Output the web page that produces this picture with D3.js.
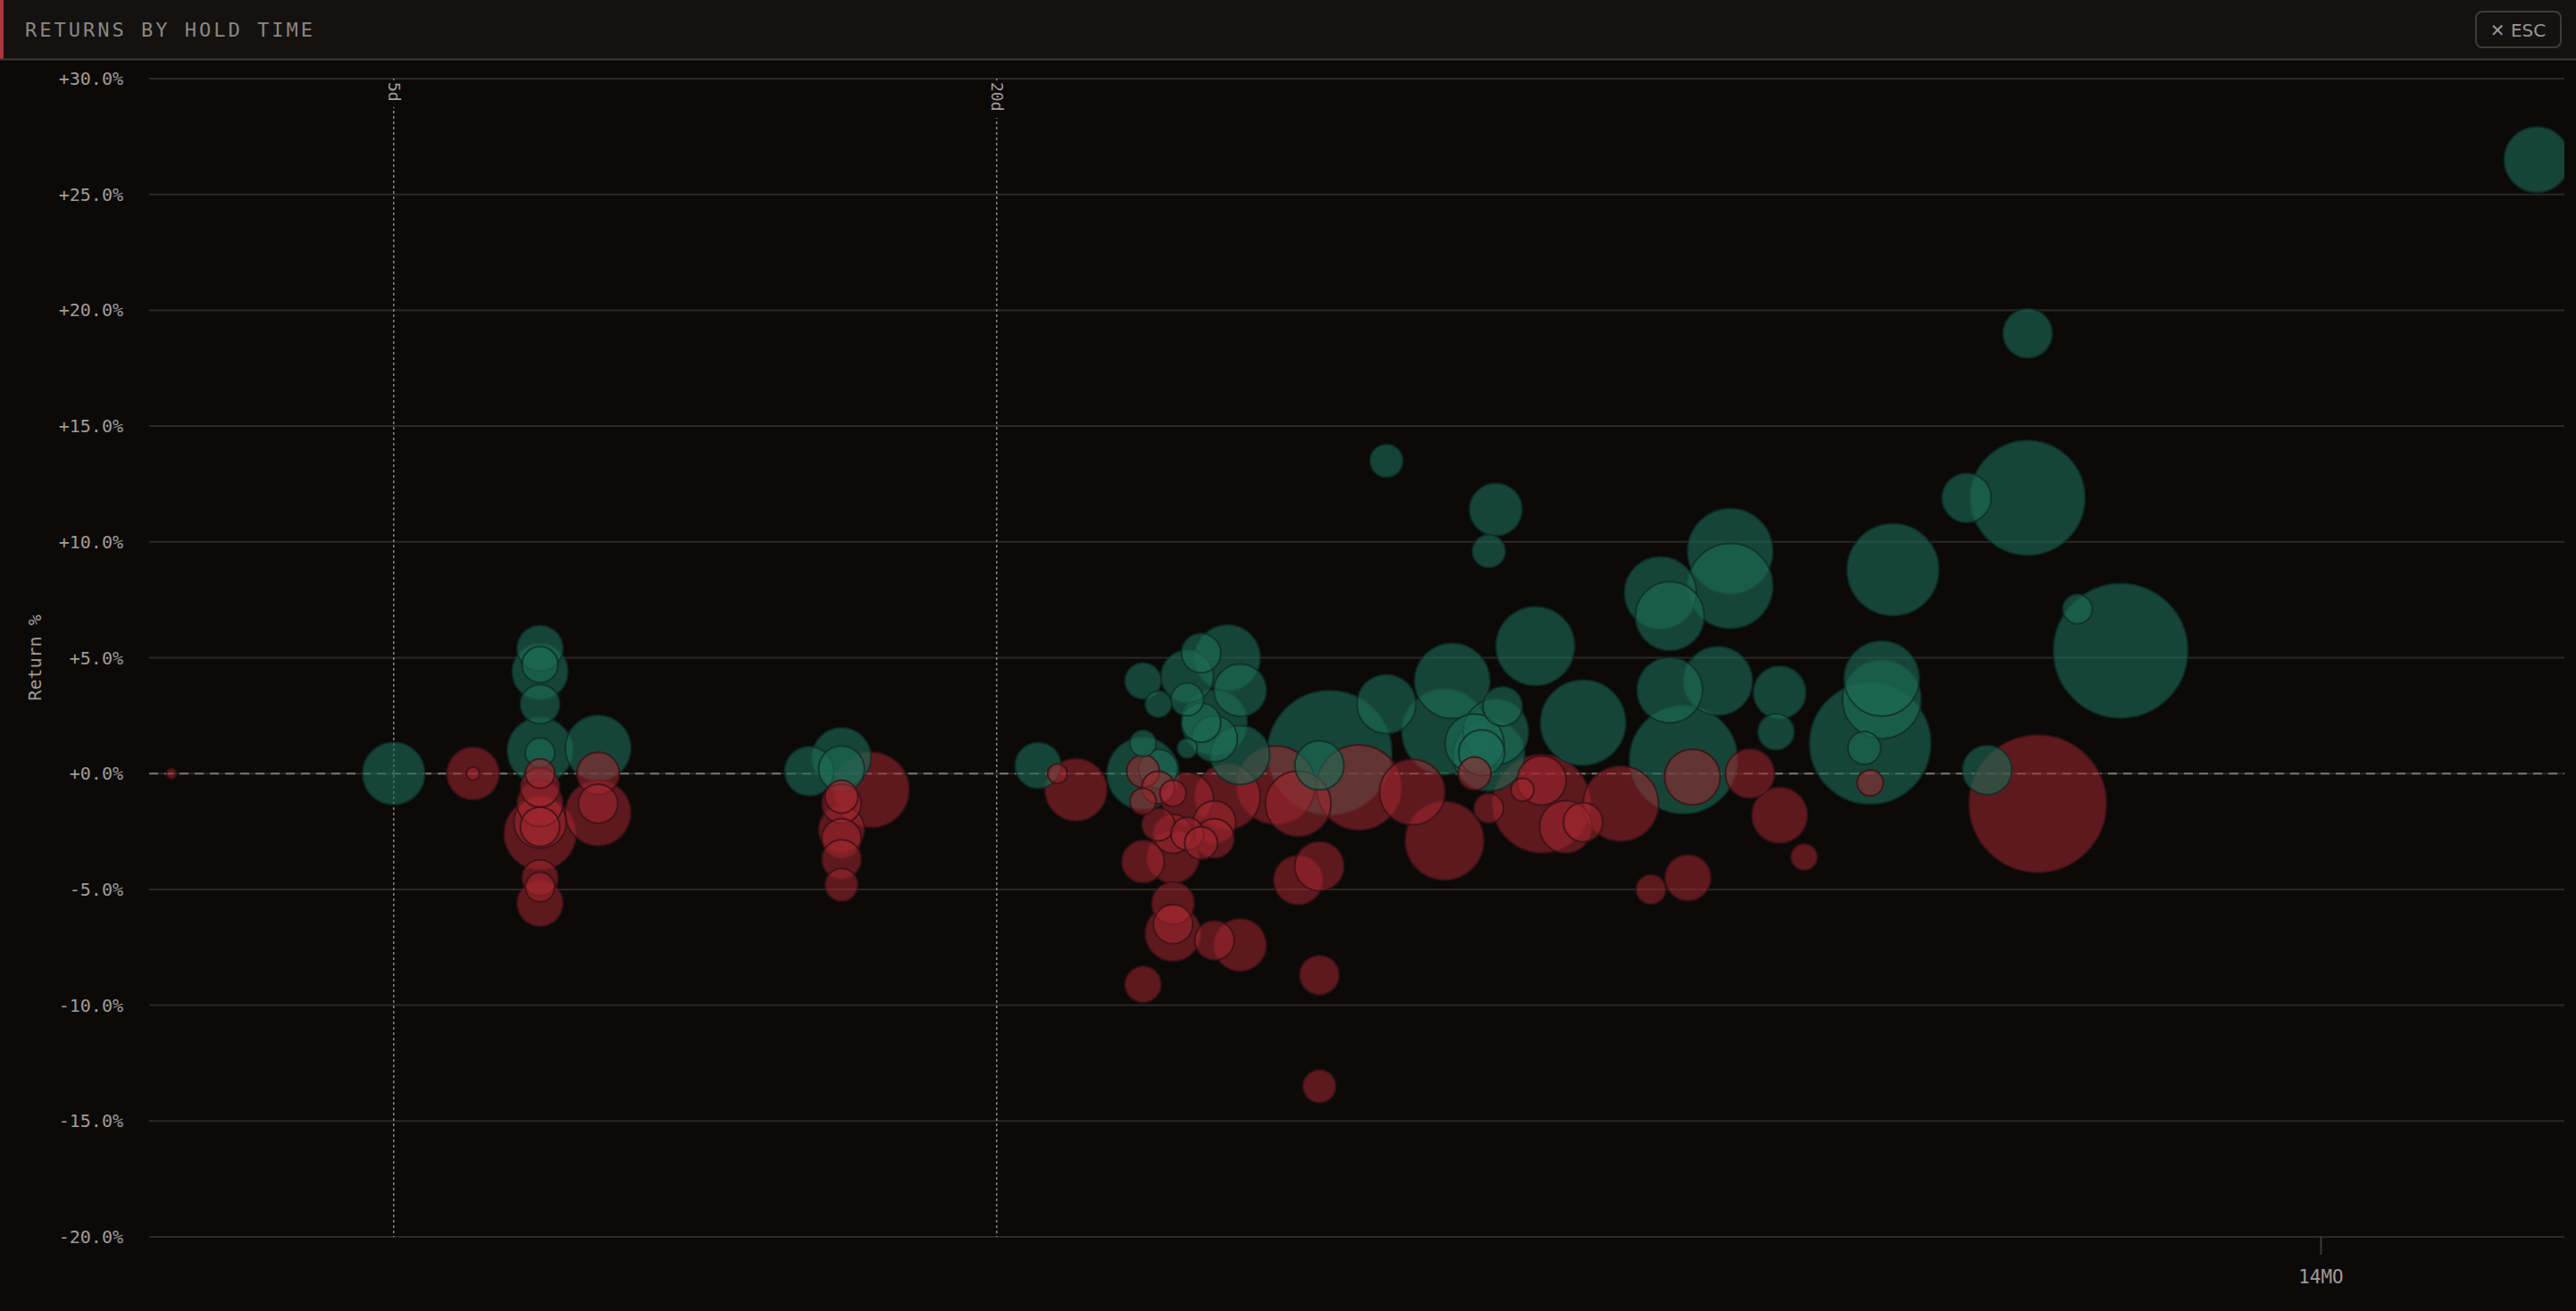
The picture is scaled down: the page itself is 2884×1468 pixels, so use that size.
<!DOCTYPE html>
<html><head><meta charset="utf-8">
<script src="https://cdn.jsdelivr.net/npm/d3@7"></script>
<style>
html,body{margin:0;padding:0;background:#0b0a09;overflow:hidden}
svg{display:block}
</style></head><body>
<svg id="c" width="2884" height="1468"></svg>
<script>
// hold time (days), return (%), position size (arbitrary units)
const holdDays = [3,5,6,6, 7,7,7,7,7,7,7,7,7,7,7,7,7,7,7, 8,8,8,8,
 13,14,14,15,14,14,14,14,14,14, 22,23,24,
 28,29,28,31,31,32,31,34,35,33,32,33,35,29,28, 28,28,29,30,29,30,31,32,33,33,34,31,28,30,30,30,30,33,35,28,
 38,40,40,42,42,42,43,42, 46,49,49, 52,56,57,56, 63,62,64,63,60,62,61,62,60,
 69,70,67,74,77,77,70, 84,92,94,94,97,99,90,98,
 108,108,105,113,121,120,121,128,
 157,153,153,149,147,149, 186,195, 214,214,219, 240,265,690];
const returns = [0,0,0,0, 5.4,4.4,4.7,3.0,1.0,0.9,0,-0.6,-1.3,-2.1,-2.6,-2.3,-4.5,-4.9,-5.6, 1.1,0,-1.3,-1.7,
 0.1,0.7,0.2,-0.7,-1.3,-1.0,-2.4,-2.8,-3.7,-4.8, 0.35,0,-0.7,
 4.0,3.0,1.3,1.1,3.2,5.2,4.2,5.0,3.6,2.2,2.2,1.5,0.8,0.2,0, 0.1,-1.2,-0.6,-0.85,-2.2,-2.6,-2.6,-3.0,-2.8,-2.1,-1.0,-1.1,-3.8,-3.6,-5.6,-6.5,-6.9,-7.2,-7.4,-9.1,
 -0.5,-1.3,-4.6,-4.0,-8.7,-13.5,0.9,0.35, -0.6,3.0,13.5, -0.8,-2.9,4.0,1.8, 11.4,9.6,2.9,1.8,1.3,0.8,0.9,-1.5,0,
 5.5,-1.3,-0.7,-2.3,-2.1,2.2,-0.3, -1.3,7.8,6.8,3.6,0.6,-0.15,-5.0,-4.5,
 9.6,8.1,4.0,0,3.5,1.8,-1.8,-3.6,
 8.8,4.1,3.2,1.3,1.1,-0.4, 11.9,0.15, 19.0,11.9,-1.3, 7.1,5.3,26.5];
const sizes = [9,361,256,16, 196,289,121,144,400,81,81,144,196,256,484,144,121,81,196, 400,169,144,400,
 225,324,196,529,144,100,196,144,144,100, 196,36,361,
 121,64,64,36,100,144,256,400,256,400,144,196,324,144,484, 100,64,100,64,100,144,100,100,144,169,400,256,169,256,169,144,289,144,256,121,
 576,400,225,225,144,100,1444,225, 676,324,100, 400,576,529,676, 256,100,144,400,324,484,196,81,100,
 576,900,49,256,144,676,225, 529,484,441,400,1089,289,81,196,
 676,676,441,225,256,121,289,64,
 784,529,576,1369,100,64, 225,225, 225,1225,1764, 81,1681,400];
const pnlSign = ["L","G","L","L", "G","G","G","G","G","G","L","L","L","L","L","L","L","L","L", "G","L","L","L",
 "G","G","G","L","L","L","L","L","L","L", "G","L","L",
 "G","G","G","G","G","G","G","G","G","G","G","G","G","G","G", "L","L","L","L","L","L","L","L","L","L","L","L","L","L","L","L","L","L","L","L",
 "L","L","L","L","L","L","G","G", "L","G","G", "L","L","G","G", "G","G","G","G","G","G","G","L","L",
 "G","L","L","L","L","G","L", "L","G","G","G","G","L","L","L",
 "G","G","G","L","G","G","L","L",
 "G","G","G","G","G","L", "G","G", "G","G","L", "G","G","G"];
const yTicks = [30,25,20,15,10,5,0,-5,-10,-15,-20];
const refLines = [{d:5,label:"5d"},{d:20,label:"20d"}];
const xTicks = [{d:420,label:"14MO"}];

const data = holdDays.map((d,i)=>({d, r:returns[i], s:sizes[i], g:pnlSign[i]==="G"}));
const svg = d3.select("#c");
const W=2884,H=1468;
const mono = "'DejaVu Sans Mono', 'Liberation Mono', monospace";
const M = {l:167, r:2871, t:88, b:1385};

// header
svg.append("rect").attr("x",0).attr("y",0).attr("width",W).attr("height",66).attr("fill","#131211");
svg.append("rect").attr("x",0).attr("y",0).attr("width",4).attr("height",66).attr("fill","#b0343c");
svg.append("line").attr("x1",0).attr("x2",W).attr("y1",66.5).attr("y2",66.5).attr("stroke","#3c3b3a").attr("stroke-width",2);
svg.append("text").attr("x",28).attr("y",41).attr("fill","#8c8681").attr("font-family",mono)
  .attr("font-size",22).attr("letter-spacing",3).text("RETURNS BY HOLD TIME");
const esc = svg.append("g");
esc.append("rect").attr("x",2772).attr("y",13).attr("width",95).attr("height",40).attr("rx",7)
  .attr("fill","none").attr("stroke","#3c3b3a").attr("stroke-width",2);
esc.append("text").attr("x",2819).attr("y",41).attr("text-anchor","middle").attr("fill","#9a9592")
  .attr("font-family","'DejaVu Sans', sans-serif").attr("font-size",20).text("✕ ESC");

const x = d3.scaleLog().domain([2.85,735]).range([M.l,M.r]);
const y = d3.scaleLinear().domain([-20,30]).range([M.b,M.t]);
const rs = d3.scaleSqrt().domain([0,d3.max(sizes)]).range([0,77]);

// grid
svg.append("g").selectAll("line").data(yTicks).join("line")
  .attr("x1",M.l).attr("x2",M.r).attr("y1",d=>y(d)).attr("y2",d=>y(d))
  .attr("stroke","#2a2928").attr("stroke-width",2);
svg.append("g").selectAll("text").data(yTicks).join("text")
  .attr("x",138).attr("y",d=>y(d)+7).attr("text-anchor","end").attr("fill","#a19c98")
  .attr("font-family",mono).attr("font-size",20).text(d=>(d>=0?"+":"")+d.toFixed(1)+"%");
svg.append("text").attr("transform",`translate(46,${(M.t+M.b)/2}) rotate(-90)`).attr("text-anchor","middle")
  .attr("fill","#a19c98").attr("font-family",mono).attr("font-size",20).text("Return %");

// ref lines
const rl = svg.append("g").selectAll("g").data(refLines).join("g");
rl.append("line").attr("x1",d=>x(d.d)).attr("x2",d=>x(d.d)).attr("y1",M.t).attr("y2",M.b)
  .attr("stroke","#8a8682").attr("stroke-width",1.5).attr("stroke-dasharray","3,3");
rl.append("rect").attr("x",d=>x(d.d)-10).attr("y",M.t+2).attr("width",20).attr("height",d=>d.label.length*12+6).attr("fill","#0b0a09");
rl.append("text").attr("transform",d=>`translate(${x(d.d)-6},${M.t+4}) rotate(90)`)
  .attr("fill","#a19c98").attr("font-family",mono).attr("font-size",18).text(d=>d.label);

// zero line
svg.append("line").attr("x1",M.l).attr("x2",M.r).attr("y1",y(0)).attr("y2",y(0))
  .attr("stroke","#7a7672").attr("stroke-width",2).attr("stroke-dasharray","10,7");

// x ticks
const xt = svg.append("g").selectAll("g").data(xTicks).join("g");
xt.append("line").attr("x1",d=>x(d.d)).attr("x2",d=>x(d.d)).attr("y1",M.b).attr("y2",M.b+20).attr("stroke","#3a3938").attr("stroke-width",2);
xt.append("text").attr("x",d=>x(d.d)).attr("y",M.b+52).attr("text-anchor","middle").attr("fill","#a19c98")
  .attr("font-family",mono).attr("font-size",21).text(d=>d.label);

// bubbles
svg.append("clipPath").attr("id","pc").append("rect").attr("x",M.l).attr("y",M.t-60).attr("width",M.r-M.l).attr("height",M.b-M.t+60);
const sorted = data.slice().sort((a,b)=>b.s-a.s);
svg.append("g").attr("clip-path","url(#pc)").selectAll("circle").data(sorted).join("circle")
  .attr("cx",d=>x(d.d)).attr("cy",d=>y(d.r)).attr("r",d=>rs(d.s))
  .attr("fill",d=>d.g?"#1d6b56":"#a3262f").attr("fill-opacity",d=>d.g?0.62:0.55)
  .attr("stroke",d=>d.g?"#0e2e26":"#3a1014").attr("stroke-opacity",0.8).attr("stroke-width",2);
</script></body></html>
